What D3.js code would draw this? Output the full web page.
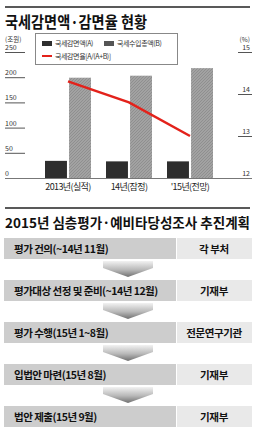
<!DOCTYPE html>
<html>
<head>
<meta charset="utf-8">
<script src="https://cdn.jsdelivr.net/npm/d3@7"></script>
<style>
  body { margin: 0; background: #fff; }
  svg { display: block; font-family: "Noto Sans CJK KR", "Noto Sans", sans-serif; }
</style>
</head>
<body>
<div id="chart"></div>
<script>
// chart data
const years = ["2013년(실적)", "14년(잠정)", "'15년(전망)"];
const reduction = [34, 33, 33];        // 국세감면액 (조원)
const revenue = [199, 203, 218];       // 국세수입총액 (조원)
const rate = [14.3, 13.8, 13.0];       // 국세감면율 (%)
const leftTicks = [0, 50, 100, 150, 200, 250];
const rightTicks = [12, 13, 14, 15];

// plan table data
const steps = ["평가 건의(~14년 11월)", "평가대상 선정 및 준비(~14년 12월)", "평가 수행(15년 1~8월)", "입법안 마련(15년 8월)", "법안 제출(15년 9월)"];
const owners = ["각 부처", "기재부", "전문연구기관", "기재부", "기재부"];

const W = 255, H = 435;
const svg = d3.select("#chart").append("svg").attr("width", W).attr("height", H);

const defs = svg.append("defs");
const pat = defs.append("pattern")
    .attr("id", "hatch").attr("patternUnits", "userSpaceOnUse")
    .attr("width", 3).attr("height", 3);
pat.append("rect").attr("width", 3).attr("height", 3).attr("fill", "#a2a2a2");
pat.append("path").attr("d", "M0,3 L3,0").attr("stroke", "#8a8a8a").attr("stroke-width", 0.8);

const grad = defs.append("linearGradient").attr("id", "arrowGrad")
    .attr("x1", 0).attr("y1", 0).attr("x2", 0).attr("y2", 1);
grad.append("stop").attr("offset", "0%").attr("stop-color", "#f2f2f2");
grad.append("stop").attr("offset", "55%").attr("stop-color", "#b8b8b8");
grad.append("stop").attr("offset", "100%").attr("stop-color", "#707070");

// top rule and title
svg.append("line").attr("x1", 5).attr("x2", 250).attr("y1", 7).attr("y2", 7)
    .attr("stroke", "#222").attr("stroke-width", 1.5);
svg.append("text").attr("x", 5).attr("y", 28)
    .attr("font-size", 16).attr("font-weight", 700).attr("fill", "#111")
    .attr("textLength", 142).attr("lengthAdjust", "spacingAndGlyphs")
    .text("국세감면액·감면율 현황");

// scales
const x = d3.scaleBand().domain(years).range([37.5, 220.5]).paddingInner(0.246).paddingOuter(0.123);
const xs = d3.scaleBand().domain(["A", "B"]).range([0, x.bandwidth()]).paddingInner(0.087);
const yL = d3.scaleLinear().domain([0, 250]).range([178, 52]);
const yR = d3.scaleLinear().domain([12, 15]).range([178, 52]);

// units
svg.append("text").attr("x", 5).attr("y", 41.5).attr("font-size", 6.5).attr("fill", "#333").text("(조원)");
svg.append("text").attr("x", 250).attr("y", 41.5).attr("font-size", 6.5).attr("fill", "#333")
    .attr("text-anchor", "end").text("(%)");

// left ticks
const lt = svg.append("g").selectAll("g").data(leftTicks).enter().append("g");
lt.append("line").attr("x1", 5).attr("x2", 25)
    .attr("y1", d => yL(d) + 0.5).attr("y2", d => yL(d) + 0.5)
    .attr("stroke", "#555").attr("stroke-width", 1);
lt.append("text").attr("x", 5).attr("y", d => yL(d) - 2)
    .attr("font-size", 7).attr("fill", "#333").text(d => d);

// right ticks
const rt = svg.append("g").selectAll("g").data(rightTicks).enter().append("g");
rt.append("line").attr("x1", 238).attr("x2", 252)
    .attr("y1", d => yR(d) + 0.5).attr("y2", d => yR(d) + 0.5)
    .attr("stroke", "#555").attr("stroke-width", 1);
rt.append("text").attr("x", 250).attr("y", d => yR(d) - 2)
    .attr("text-anchor", "end").attr("font-size", 7).attr("fill", "#333").text(d => d);

// baseline
svg.append("line").attr("x1", 5).attr("x2", 252).attr("y1", 178.5).attr("y2", 178.5)
    .attr("stroke", "#777").attr("stroke-width", 1.2);

// bars
const groups = svg.append("g").selectAll("g").data(years).enter().append("g")
    .attr("transform", d => `translate(${x(d)},0)`);
groups.append("rect")
    .attr("x", xs("A")).attr("width", xs.bandwidth())
    .attr("y", (d, i) => yL(reduction[i])).attr("height", (d, i) => yL(0) - yL(reduction[i]))
    .attr("fill", "#2e2e2e");
groups.append("rect")
    .attr("x", xs("B")).attr("width", xs.bandwidth())
    .attr("y", (d, i) => yL(revenue[i])).attr("height", (d, i) => yL(0) - yL(revenue[i]))
    .attr("fill", "url(#hatch)");

// category labels
svg.append("g").selectAll("text").data(years).enter().append("text")
    .attr("x", d => x(d) + x.bandwidth() / 2).attr("y", 190)
    .attr("text-anchor", "middle").attr("font-size", 9).attr("letter-spacing", -0.6)
    .attr("fill", "#222").text(d => d);

// rate line
const line = d3.line()
    .x((d, i) => x(years[i]) + x.bandwidth() / 2)
    .y(d => yR(d));
svg.append("path").datum(rate).attr("d", line)
    .attr("fill", "none").attr("stroke", "#e3221b").attr("stroke-width", 2.5);

// legend
const lg = svg.append("g");
lg.append("rect").attr("x", 35.5).attr("y", 33.5).attr("width", 142).attr("height", 31)
    .attr("fill", "#fff").attr("stroke", "#888").attr("stroke-width", 1);
lg.append("rect").attr("x", 42).attr("y", 41).attr("width", 10).attr("height", 5).attr("fill", "#2e2e2e");
lg.append("text").attr("x", 55).attr("y", 46).attr("font-size", 7).attr("letter-spacing", -0.4)
    .attr("fill", "#333").text("국세감면액(A)");
lg.append("rect").attr("x", 104).attr("y", 41).attr("width", 10).attr("height", 5).attr("fill", "#555");
lg.append("text").attr("x", 117).attr("y", 46).attr("font-size", 7).attr("letter-spacing", -0.4)
    .attr("fill", "#333").text("국세수입총액(B)");
lg.append("line").attr("x1", 42).attr("x2", 52).attr("y1", 56).attr("y2", 56)
    .attr("stroke", "#e3221b").attr("stroke-width", 2);
lg.append("text").attr("x", 55).attr("y", 59).attr("font-size", 7).attr("letter-spacing", -0.4)
    .attr("fill", "#333").text("국세감면율[A/(A+B)]");

// second section
svg.append("line").attr("x1", 5).attr("x2", 250).attr("y1", 208).attr("y2", 208)
    .attr("stroke", "#222").attr("stroke-width", 1.5);
svg.append("text").attr("x", 5).attr("y", 228)
    .attr("font-size", 13.5).attr("font-weight", 700).attr("fill", "#111")
    .attr("textLength", 245).attr("lengthAdjust", "spacingAndGlyphs")
    .text("2015년 심층평가·예비타당성조사 추진계획");

const rowH = 21, rowStep = 42, rowTop = 238;
const rows = svg.append("g").selectAll("g").data(steps).enter().append("g")
    .attr("transform", (d, i) => `translate(0,${rowTop + i * rowStep})`);
rows.append("rect").attr("x", 4).attr("y", 0).attr("width", 172).attr("height", rowH).attr("fill", "#cdcdcd");
rows.append("rect").attr("x", 177).attr("y", 0).attr("width", 75).attr("height", rowH).attr("fill", "#e9e9e9");
rows.append("text").attr("x", 14).attr("y", 15).attr("font-size", 10.5).attr("font-weight", 700)
    .attr("letter-spacing", -0.5).attr("fill", "#111").text(d => d);
rows.append("text").attr("x", 214).attr("y", 15).attr("text-anchor", "middle")
    .attr("font-size", 10.5).attr("font-weight", 700).attr("letter-spacing", -0.4)
    .attr("fill", "#111").text((d, i) => owners[i]);

// arrows between rows
svg.append("g").selectAll("path").data(d3.range(steps.length - 1)).enter().append("path")
    .attr("transform", i => `translate(0,${rowTop + i * rowStep + rowH})`)
    .attr("d", "M103,2 L153,2 L153,9 L128,18 L103,9 Z")
    .attr("fill", "url(#arrowGrad)");
</script>
</body>
</html>
